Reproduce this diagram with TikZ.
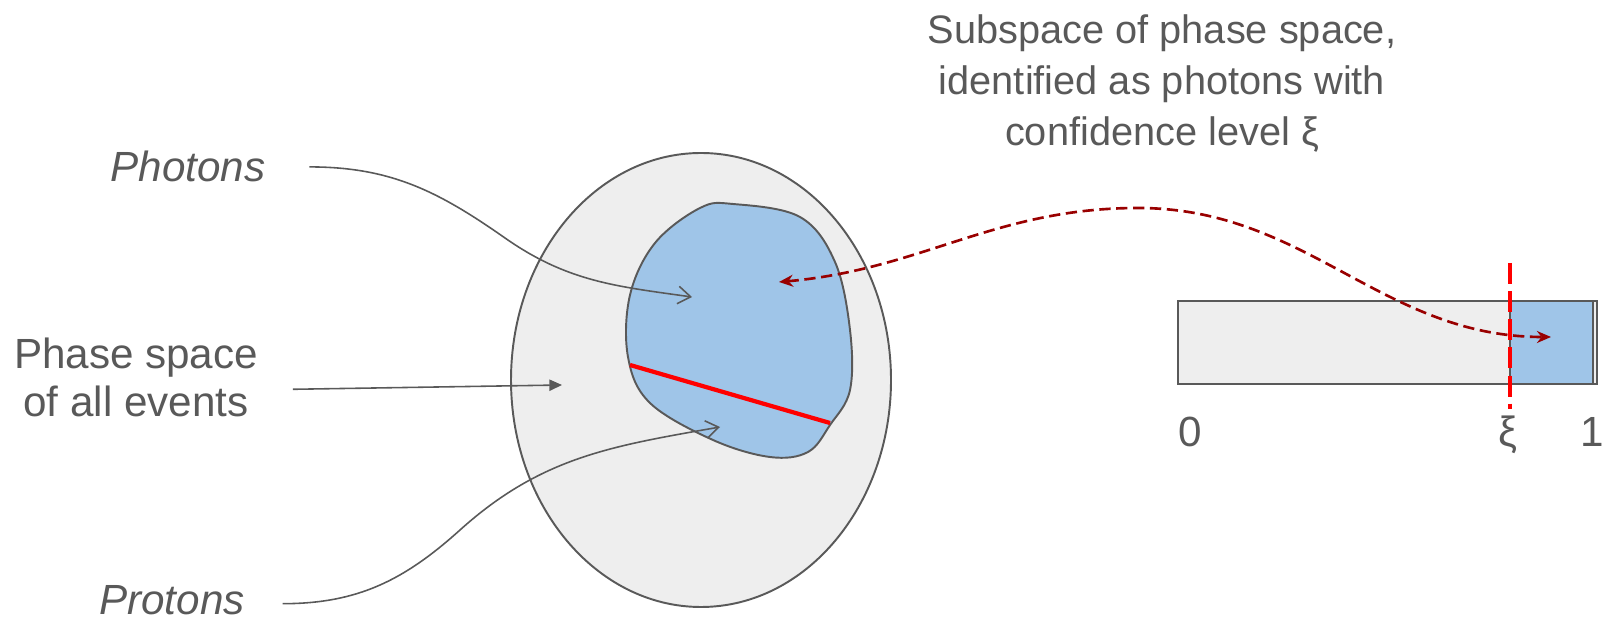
\documentclass[tikz,border=0pt]{standalone}
\usepackage{fontspec}
\setmainfont{Liberation Sans}
\usetikzlibrary{arrows.meta}
\definecolor{cgrey}{HTML}{595959}
\definecolor{clight}{HTML}{EEEEEE}
\definecolor{cblue}{HTML}{9FC5E8}
\definecolor{cred}{HTML}{FF0000}
\definecolor{cdark}{HTML}{990000}
\tikzset{
  every picture/.style={line width=0.5pt},
  txt/.style={text=cgrey, font=\fontsize{12}{13.6}\selectfont, align=center, inner sep=0pt},
  slanted/.style={txt, font=\fontsize{12}{13.6}\selectfont\itshape},
  region/.style={draw=cgrey, fill=#1, line width=0.55pt},
  region/.default=clight,
  pointer/.style={draw=cgrey, line width=0.45pt, -{Straight Barb[length=3.6pt, width=5pt]}},
  solidpointer/.style={draw=cgrey, line width=0.45pt, -{Triangle[length=3.6pt, width=3.2pt]}},
  link/.style={draw=cdark, line width=0.75pt, dash pattern=on 3.2pt off 1.6pt,
    {Stealth[length=4pt, width=3.4pt]}-{Stealth[length=4pt, width=3.4pt]}},
  cut/.style={draw=cred, line width=1.2pt, dash pattern=on 6pt off 2pt},
}
\begin{document}
\begin{tikzpicture}[x=0.01cm, y=-0.01cm]
  \useasboundingbox (0,0) rectangle (1603,619);
  % all events, photon region inside
  \draw[region] (701,380) ellipse [x radius=190, y radius=227];
  \draw[region=cblue] plot[smooth cycle, tension=0.6] coordinates {
    (733,204) (800,217) (835,262) (850,330) (850,390) (830,425) (808,452)
    (770,457) (713,440) (650,403) (628,357) (630,295) (655,243) (700,208)};
  \draw[cred, line width=1.2pt] (630,365) -- (830,423);
  % confidence bar
  \draw[region] (1178,301) rectangle (1597,384);
  \draw[region=cblue] (1510,301) rectangle (1593,384);
  \draw[cut] (1510,263) -- (1510,409);
  \node[txt, anchor=base] (zero) at (1190,447) {0};
  \node[txt, anchor=base] (xi) at (1508,447) {ξ};
  \node[txt, anchor=base west] (one) at (1580,447) {1};
  % labels
  \node[txt, font=\fontsize{11.3}{14.5}\selectfont, anchor=north] (subspace) at (1162,14)
    {Subspace of phase space,\\identified as photons with\\confidence level ξ};
  \node[txt, anchor=north] (phase) at (136,337) {Phase space\\of all events};
  \node[slanted, anchor=base] (photons) at (188,182) {Photons};
  \node[slanted, anchor=base] (protons) at (172,615) {Protons};
  \coordinate (ph-tip) at (692,297);
  \coordinate (ev-tip) at (562,385);
  \coordinate (pr-tip) at (720,427);
  \coordinate (sub-tip) at (779,282);
  \coordinate (bar-tip) at (1551,337);
  % pointers
  \draw[pointer] ([xshift=0.43cm]photons.east) to[out=0, in=145] (505,238) to[out=-35, in=172] (ph-tip);
  \draw[solidpointer] ([xshift=0.34cm, yshift=-0.12cm]phase.east) -- (ev-tip);
  \draw[pointer] ([xshift=0.37cm, yshift=-0.03cm]protons.east) to[out=0, in=-138] (460,530) to[out=42, in=190] (pr-tip);
  \draw[link] (sub-tip) to[out=5, in=180] (1138,208) to[out=0, in=180] (bar-tip);
\end{tikzpicture}
\end{document}
